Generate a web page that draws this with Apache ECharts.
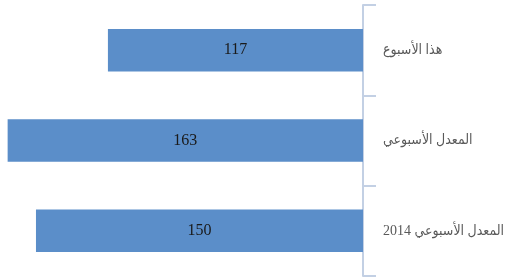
<!DOCTYPE html>
<html><head><meta charset="utf-8">
<script src="https://cdn.jsdelivr.net/npm/echarts@6/dist/echarts.min.js"></script>
<style>html,body{margin:0;padding:0;background:#fff}#c{width:512px;height:280px}</style>
</head><body><div id="c"></div>
<script>
const categories = ['هذا الأسبوع', 'المعدل الأسبوعي', 'المعدل الأسبوعي 2014'];
const values = [117, 163, 150];

const chart = echarts.init(document.getElementById('c'), null, {renderer: 'canvas'});
chart.setOption({
  animation: false,
  grid: {left: 0, width: 363, top: 5, bottom: 4, containLabel: false, outerBoundsMode: 'none'},
  xAxis: {type: 'value', inverse: true, min: 0, max: 166.5, show: false, splitLine: {show: false}},
  yAxis: {
    type: 'category', position: 'right', inverse: true, data: categories,
    axisLine: {show: true, lineStyle: {color: '#c3d0e4', width: 2}},
    axisTick: {show: true, length: 13, lineStyle: {color: '#c3d0e4', width: 2}},
    axisLabel: {margin: 20, color: '#595959', fontSize: 14, fontFamily: '"Liberation Serif", "DejaVu Sans Condensed", serif'}
  },
  series: [{
    type: 'bar', data: values, barCategoryGap: '53%',
    itemStyle: {color: '#5b8ec9'},
    label: {show: true, position: 'inside', color: '#1a1a1a', fontSize: 16, fontFamily: 'Liberation Serif, serif'}
  }]
});
</script></body></html>
